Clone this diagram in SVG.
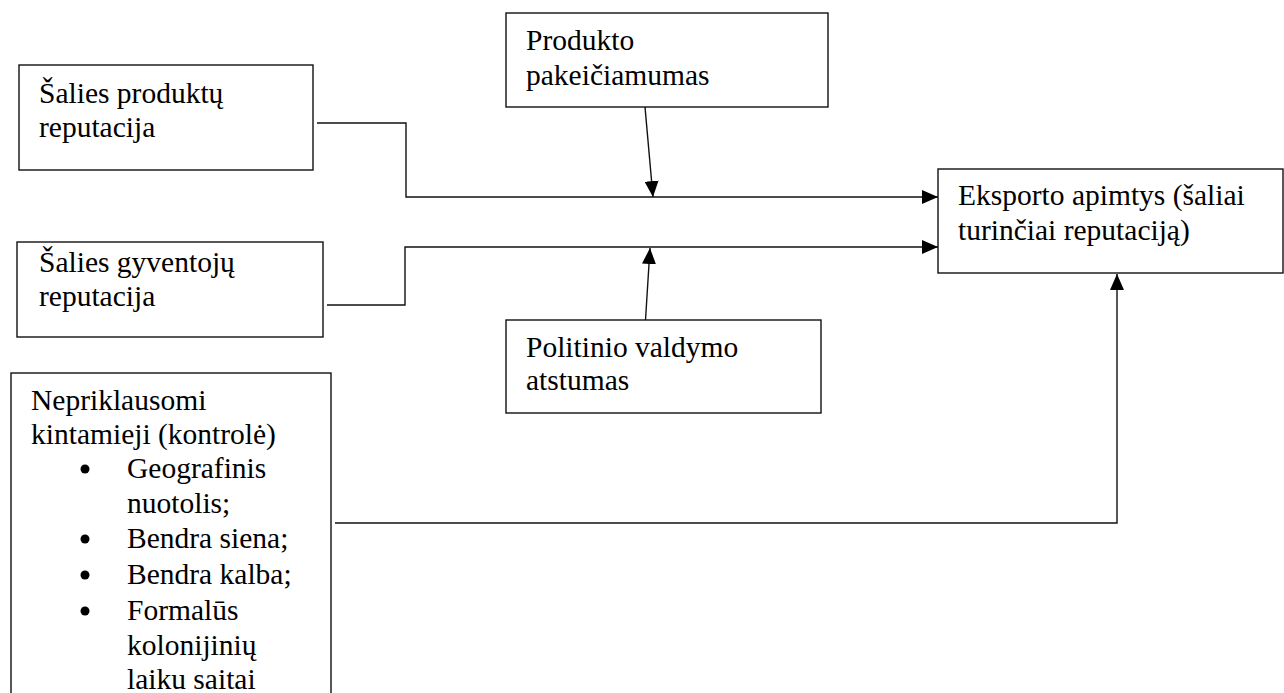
<svg xmlns="http://www.w3.org/2000/svg" width="1284" height="693" viewBox="0 0 1284 693">
  <style>
    .box { fill: #fff; stroke: #111; stroke-width: 1.4; }
    .lbl { font-family: 'Liberation Serif', 'DejaVu Serif', serif; font-size: 29.5px; fill: #000; }
    .wire { fill: none; stroke: #111; stroke-width: 1.4; }
  </style>
  <defs>
    <marker id="head" viewBox="0 0 16 14" refX="16" refY="7" markerWidth="16" markerHeight="14" markerUnits="userSpaceOnUse" orient="auto">
      <path d="M0,0 L16,7 L0,14 z" fill="#000"/>
    </marker>
  </defs>
  <rect width="1284" height="693" fill="#fff"/>

  <g id="connectors">
    <polyline class="wire" points="317,123 406,123 406,197 938,197" marker-end="url(#head)"/>
    <polyline class="wire" points="327,305 405,305 405,247 938,247" marker-end="url(#head)"/>
    <line class="wire" x1="645" y1="107" x2="653" y2="197" marker-end="url(#head)"/>
    <line class="wire" x1="645" y1="328" x2="650" y2="248" marker-end="url(#head)"/>
    <polyline class="wire" points="335,523 1117,523 1117,274" marker-end="url(#head)"/>
  </g>

  <g id="node-produktu-reputacija">
    <rect class="box" x="19" y="65" width="294" height="105"/>
    <text class="lbl" x="39" y="103">Šalies produktų</text>
    <text class="lbl" x="39" y="137">reputacija</text>
  </g>

  <g id="node-gyventoju-reputacija">
    <rect class="box" x="17" y="242" width="306" height="95"/>
    <text class="lbl" x="39" y="272">Šalies gyventojų</text>
    <text class="lbl" x="39" y="306">reputacija</text>
  </g>

  <g id="node-pakeiciamumas">
    <rect class="box" x="506" y="13" width="322" height="94"/>
    <text class="lbl" x="526" y="50">Produkto</text>
    <text class="lbl" x="526" y="85">pakeičiamumas</text>
  </g>

  <g id="node-politinis-atstumas">
    <rect class="box" x="506" y="320" width="315" height="93"/>
    <text class="lbl" x="526" y="357">Politinio valdymo</text>
    <text class="lbl" x="526" y="390">atstumas</text>
  </g>

  <g id="node-eksportas">
    <rect class="box" x="938" y="169" width="345" height="104"/>
    <text class="lbl" x="958" y="205">Eksporto apimtys (šaliai</text>
    <text class="lbl" x="958" y="240">turinčiai reputaciją)</text>
  </g>

  <g id="node-kontroles-kintamieji">
    <rect class="box" x="11" y="373" width="320" height="340"/>
    <text class="lbl" x="31" y="410">Nepriklausomi</text>
    <text class="lbl" x="31" y="444">kintamieji (kontrolė)</text>
    <circle cx="85" cy="469" r="4.5" fill="#000"/>
    <text class="lbl" x="127" y="478">Geografinis</text>
    <text class="lbl" x="127" y="513">nuotolis;</text>
    <circle cx="85" cy="539" r="4.5" fill="#000"/>
    <text class="lbl" x="127" y="548">Bendra siena;</text>
    <circle cx="85" cy="575" r="4.5" fill="#000"/>
    <text class="lbl" x="127" y="584">Bendra kalba;</text>
    <circle cx="85" cy="611" r="4.5" fill="#000"/>
    <text class="lbl" x="127" y="620">Formalūs</text>
    <text class="lbl" x="127" y="655">kolonijinių</text>
    <text class="lbl" x="127" y="689">laiku saitai</text>
  </g>
</svg>
